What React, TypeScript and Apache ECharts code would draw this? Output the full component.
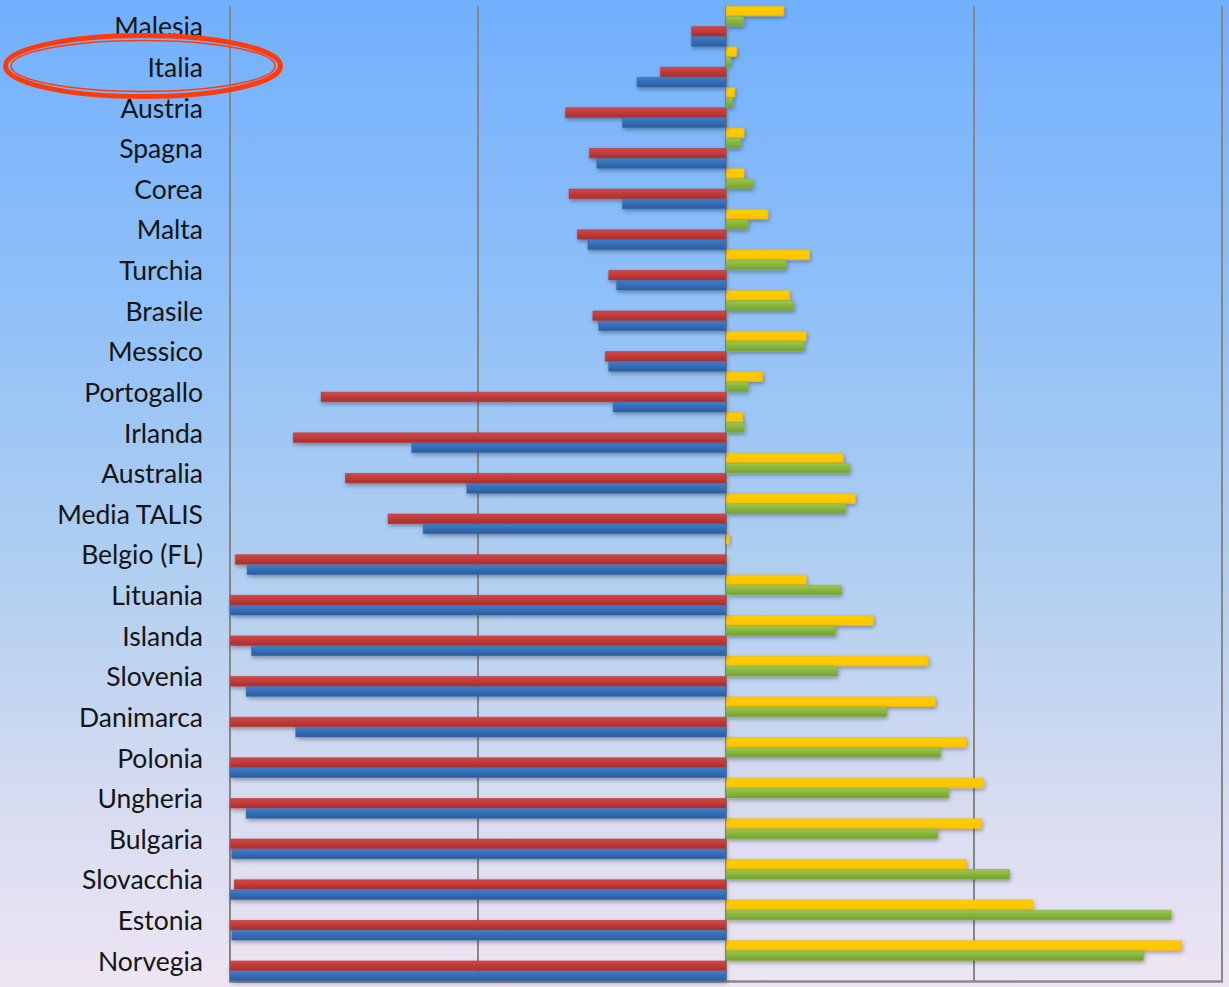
import React, { useEffect, useRef } from "react";
import * as echarts from "echarts";

const categories = [
  "Malesia", "Italia", "Austria", "Spagna", "Corea", "Malta", "Turchia", "Brasile",
  "Messico", "Portogallo", "Irlanda", "Australia", "Media TALIS", "Belgio (FL)",
  "Lituania", "Islanda", "Slovenia", "Danimarca", "Polonia", "Ungheria", "Bulgaria",
  "Slovacchia", "Estonia", "Norvegia",
];

const yellowValues = [11.7, 2.2, 1.8, 3.7, 3.7, 8.5, 16.9, 12.9, 16.2, 7.4, 3.4, 23.7, 26.1, 0.7, 16.2, 29.8, 40.8, 42.3, 48.5, 52.0, 51.6, 48.5, 61.9, 91.9];
const greenValues = [3.6, 1.0, 1.4, 3.0, 5.5, 4.5, 12.2, 13.7, 15.8, 4.5, 3.7, 25.0, 24.2, 0, 23.3, 22.2, 22.5, 32.4, 43.3, 44.9, 42.7, 57.2, 89.8, 84.2];
const redValues = [-7.0, -13.3, -32.4, -27.6, -31.7, -30.0, -23.7, -26.9, -24.4, -81.7, -87.3, -76.8, -68.2, -99.0, -100, -100, -100, -100, -100, -100, -100, -99.2, -100, -100];
const blueValues = [-7.0, -18.0, -20.9, -26.1, -20.9, -27.9, -22.1, -25.7, -23.7, -22.8, -63.4, -52.3, -61.1, -96.6, -100, -95.7, -96.8, -86.8, -100, -96.8, -99.7, -100, -99.7, -100];

const axisMin = -100;
const axisMax = 100;
const axisInterval = 50;

function grad(top: string, bottom: string) {
  return new echarts.graphic.LinearGradient(0, 0, 0, 1, [
    { offset: 0, color: top },
    { offset: 1, color: bottom },
  ]);
}

function barSeries(name: string, data: number[], top: string, bottom: string, border: string) {
  return {
    name,
    type: "bar",
    data,
    barGap: "0%",
    barCategoryGap: "0%",
    itemStyle: {
      color: grad(top, bottom),
      borderColor: border,
      borderWidth: 0.6,
      shadowColor: "rgba(0,0,0,0.35)",
      shadowBlur: 4,
      shadowOffsetX: 1,
      shadowOffsetY: 2,
    },
  };
}

export default function App() {
  const ref = useRef<HTMLDivElement>(null);
  useEffect(() => {
    if (!ref.current) return;
    const chart = echarts.init(ref.current, undefined, { renderer: "svg" });
    chart.setOption({
      animation: false,
      grid: { left: 230, right: 7, top: 6, bottom: 6, containLabel: false },
      xAxis: {
        type: "value",
        min: axisMin,
        max: axisMax,
        interval: axisInterval,
        axisLabel: { show: false },
        axisTick: { show: false },
        axisLine: { show: true, lineStyle: { color: "#8a8a8a", width: 2.5 } },
        splitLine: { show: true, lineStyle: { color: "#868686", width: 2 } },
      },
      yAxis: {
        type: "category",
        inverse: true,
        data: categories,
        axisTick: { show: false },
        axisLine: { show: false },
        axisLabel: {
          fontSize: 26.5,
          fontFamily: "Lato, 'Open Sans', sans-serif",
          color: "#151515",
          margin: 27,
        },
      },
      series: [
        barSeries("yellow", yellowValues, "#ffcd00", "#ffc400", "#f7b500"),
        barSeries("green", greenValues, "#9cc84a", "#74a032", "#86b040"),
        barSeries("red", redValues, "#d44746", "#a82e2d", "#c03a3a"),
        barSeries("blue", blueValues, "#3e7dcc", "#2b5c9c", "#3469b0"),
      ],
      graphic: [
        {
          type: "ellipse",
          shape: { cx: 143, cy: 66, rx: 137.5, ry: 30.5 },
          style: { fill: "none", stroke: "#ff3b0c", lineWidth: 5 },
          z: 100,
        },
        {
          type: "ellipse",
          shape: { cx: 143, cy: 66, rx: 132, ry: 25.5 },
          style: { fill: "none", stroke: "#ff3b0c", lineWidth: 1.5 },
          z: 100,
        },
      ],
    });
    return () => chart.dispose();
  }, []);
  return (
    <div
      ref={ref}
      style={{
        position: "fixed",
        left: 0,
        top: 0,
        width: 1229,
        height: 987,
        background: "linear-gradient(to bottom, #72b0fd 0%, #8fc0f8 30%, #b3d0f0 60%, #d8dcf1 82%, #ede5f3 100%)",
      }}
    />
  );
}
